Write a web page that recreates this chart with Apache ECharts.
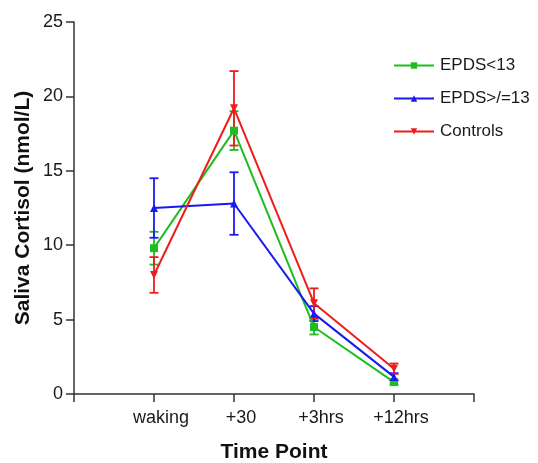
<!DOCTYPE html>
<html>
<head>
<meta charset="utf-8">
<script src="https://cdn.jsdelivr.net/npm/echarts@6/dist/echarts.min.js"></script>
<style>
html,body{margin:0;padding:0;background:#fff;}
#chart{width:538px;height:463px;}
</style>
</head>
<body>
<div id="chart"></div>
<script>
const categories = ['waking', '+30', '+3hrs', '+12hrs'];
const yTicks = [0, 5, 10, 15, 20, 25];
const epdsLow = [9.8, 17.7, 4.5, 0.8];
const epdsLowErr = [1.1, 1.3, 0.5, 0.15];
const epdsHigh = [12.5, 12.8, 5.4, 1.15];
const epdsHighErr = [2.0, 2.1, 0.5, 0.25];
const controls = [8.0, 19.2, 6.1, 1.7];
const controlsErr = [1.2, 2.5, 1.0, 0.35];

const FONT = 'Liberation Sans, Arial, sans-serif';
const chart = echarts.init(document.getElementById('chart'));

function pts(vals) { return vals.map((v, i) => [i + 1, v]); }
function errs(vals, e) { return vals.map((v, i) => [i + 1, v - e[i], v + e[i]]); }

function errSeries(name, vals, e, color) {
  return {
    name: name,
    type: 'custom',
    data: errs(vals, e),
    encode: { x: 0, y: [1, 2] },
    z: 2,
    silent: true,
    itemStyle: { color: color },
    renderItem: function (params, api) {
      const x = api.value(0);
      const lo = api.coord([x, api.value(1)]);
      const hi = api.coord([x, api.value(2)]);
      const w = 4.5;
      const style = { stroke: color, lineWidth: 1.8 };
      return {
        type: 'group',
        children: [
          { type: 'line', shape: { x1: lo[0], y1: lo[1], x2: hi[0], y2: hi[1] }, style: style },
          { type: 'line', shape: { x1: lo[0] - w, y1: lo[1], x2: lo[0] + w, y2: lo[1] }, style: style },
          { type: 'line', shape: { x1: hi[0] - w, y1: hi[1], x2: hi[0] + w, y2: hi[1] }, style: style }
        ]
      };
    }
  };
}

function lineSeries(name, vals, color, symbol, size) {
  return {
    name: name,
    type: 'line',
    data: pts(vals),
    symbol: symbol,
    symbolSize: size,
    showAllSymbol: true,
    z: 3,
    lineStyle: { color: color, width: 2 },
    itemStyle: { color: color },
    emphasis: { disabled: true }
  };
}

const GREEN = '#1fbd1f';
const BLUE = '#1a1aee';
const RED = '#ee1c1c';
const INV_TRI = 'path://M0,0 L10,0 L5,9 Z';

chart.setOption({
  animation: false,
  backgroundColor: '#fff',
  grid: { left: 74, right: 64, top: 22, bottom: 69, containLabel: false, outerBoundsMode: 'none' },
  legend: {
    orient: 'vertical',
    left: 393,
    top: 57,
    padding: 0,
    itemWidth: 40,
    itemHeight: 8,
    itemGap: 16,
    textStyle: { fontFamily: FONT, fontSize: 17, color: '#1a1a1a', padding: [0, 0, 0, 1] },
    data: ['EPDS<13', 'EPDS>/=13', 'Controls']
  },
  xAxis: {
    type: 'value',
    min: 0,
    max: 5,
    interval: 1,
    name: 'Time Point',
    nameLocation: 'middle',
    nameMoveOverlap: false,
    nameGap: 48,
    nameTextStyle: { fontFamily: FONT, fontSize: 21, fontWeight: 'bold', color: '#111' },
    axisLine: { lineStyle: { color: '#333', width: 1.5 } },
    axisTick: { length: 8, lineStyle: { color: '#333', width: 1.5 } },
    splitLine: { show: false },
    axisLabel: {
      fontFamily: FONT, fontSize: 18, color: '#1a1a1a', margin: 15,
      padding: [0, 0, 0, 14],
      formatter: function (v) { return categories[v - 1] || ''; }
    }
  },
  yAxis: {
    type: 'value',
    min: yTicks[0],
    max: yTicks[yTicks.length - 1],
    interval: 5,
    name: 'Saliva Cortisol (nmol/L)',
    nameLocation: 'middle',
    nameMoveOverlap: false,
    nameGap: 40,
    nameTextStyle: { fontFamily: FONT, fontSize: 21, fontWeight: 'bold', color: '#111' },
    axisLine: { show: true, lineStyle: { color: '#333', width: 1.5 } },
    axisTick: { show: true, length: 8, lineStyle: { color: '#333', width: 1.5 } },
    splitLine: { show: false },
    axisLabel: { fontFamily: FONT, fontSize: 18, color: '#1a1a1a', margin: 11 }
  },
  series: [
    lineSeries('EPDS<13', epdsLow, GREEN, 'rect', 8),
    lineSeries('EPDS>/=13', epdsHigh, BLUE, 'triangle', 8),
    lineSeries('Controls', controls, RED, INV_TRI, 8),
    errSeries('EPDS<13', epdsLow, epdsLowErr, GREEN),
    errSeries('EPDS>/=13', epdsHigh, epdsHighErr, BLUE),
    errSeries('Controls', controls, controlsErr, RED)
  ]
});
</script>
</body>
</html>
